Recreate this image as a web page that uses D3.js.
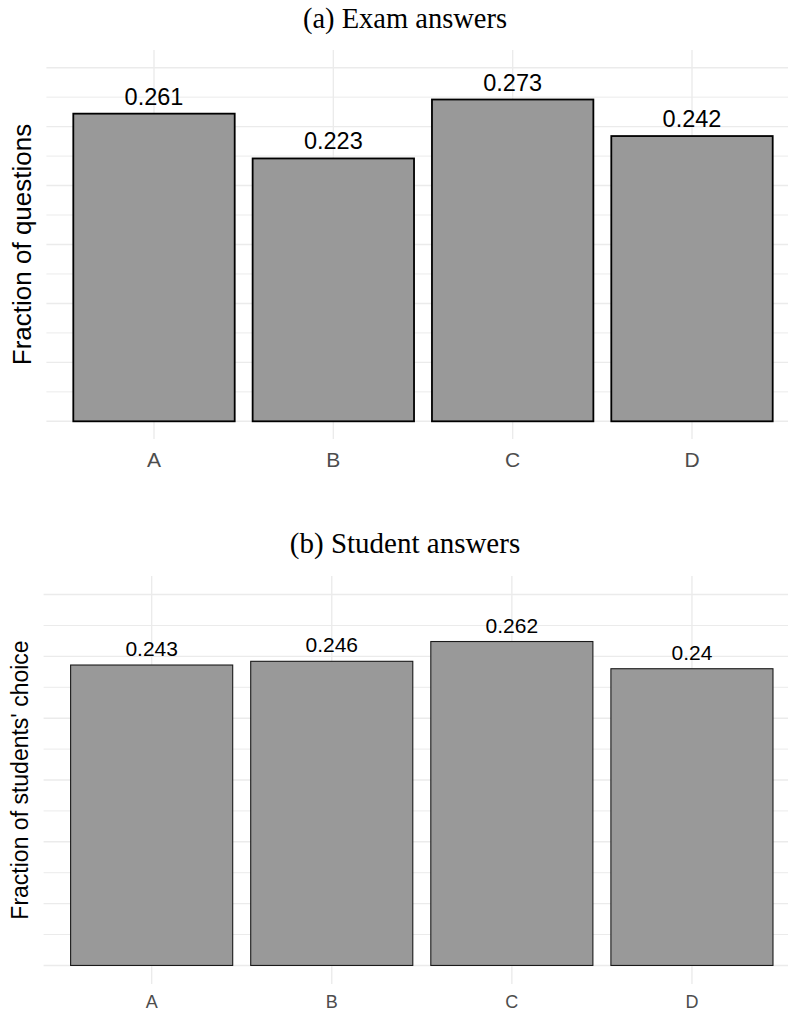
<!DOCTYPE html>
<html>
<head>
<meta charset="utf-8">
<script src="https://cdn.jsdelivr.net/npm/d3@7"></script>
<style>
  html, body { margin: 0; padding: 0; background: #fff; }
  svg { display: block; }
</style>
</head>
<body>
<svg id="chart" width="788" height="1015"></svg>
<script>
// ---- data ----
const categories = ["A", "B", "C", "D"];
const examValues = [0.261, 0.223, 0.273, 0.242];
const studentValues = [0.243, 0.246, 0.262, 0.24];
const majorTicks = [0, 0.05, 0.1, 0.15, 0.2, 0.25, 0.3];
const minorTicks = [0.025, 0.075, 0.125, 0.175, 0.225, 0.275];
const titles = ["(a) Exam answers", "(b) Student answers"];
const yTitles = ["Fraction of questions", "Fraction of students' choice"];

// ---- layout ----
const panels = [
  { values: examValues, title: titles[0], yTitle: yTitles[0],
    left: 46.4, right: 799.6, top: 50, bottom: 439,
    titleY: 28, titleSize: 28.5, yTitleX: 31, yTitleSize: 26,
    tickSize: 21, tickY: 467.3, labelSize: 23.5, barStroke: "#000", barStrokeW: 1.8 },
  { values: studentValues, title: titles[1], yTitle: yTitles[1],
    left: 43.6, right: 800, top: 576, bottom: 984,
    titleY: 553, titleSize: 29, yTitleX: 28.3, yTitleSize: 23,
    tickSize: 18, tickY: 1008.3, labelSize: 21, barStroke: "#1a1a1a", barStrokeW: 1.1 }
];

const svg = d3.select("#chart");
const yDomain = [-0.015, 0.315];

panels.forEach(p => {
  const g = svg.append("g");
  const x = d3.scaleBand().domain(categories).range([p.left, p.right])
    .paddingInner(0.1).paddingOuter(0.15);
  const y = d3.scaleLinear().domain(yDomain).range([p.bottom, p.top]);

  // minor horizontal grid
  g.selectAll(".minor").data(minorTicks).enter().append("line")
    .attr("x1", p.left).attr("x2", p.right)
    .attr("y1", d => y(d)).attr("y2", d => y(d))
    .attr("stroke", "#EBEBEB").attr("stroke-width", 1);
  // major horizontal grid
  g.selectAll(".major").data(majorTicks).enter().append("line")
    .attr("x1", p.left).attr("x2", p.right)
    .attr("y1", d => y(d)).attr("y2", d => y(d))
    .attr("stroke", "#EBEBEB").attr("stroke-width", 1.4);
  // vertical grid
  g.selectAll(".vgrid").data(categories).enter().append("line")
    .attr("x1", d => x(d) + x.bandwidth() / 2).attr("x2", d => x(d) + x.bandwidth() / 2)
    .attr("y1", p.top).attr("y2", p.bottom)
    .attr("stroke", "#EBEBEB").attr("stroke-width", 1.4);

  // bars
  g.selectAll(".bar").data(p.values).enter().append("rect")
    .attr("x", (d, i) => x(categories[i]))
    .attr("width", x.bandwidth())
    .attr("y", d => y(d))
    .attr("height", d => y(0) - y(d))
    .attr("fill", "#999999")
    .attr("stroke", p.barStroke)
    .attr("stroke-width", p.barStrokeW);

  // value labels
  g.selectAll(".lbl").data(p.values).enter().append("text")
    .attr("x", (d, i) => x(categories[i]) + x.bandwidth() / 2)
    .attr("y", d => y(d) - 9)
    .attr("text-anchor", "middle")
    .attr("font-family", "'Liberation Sans', Arial, sans-serif")
    .attr("font-size", p.labelSize)
    .attr("fill", "#000")
    .text(d => String(d));

  // x tick labels
  g.selectAll(".tick").data(categories).enter().append("text")
    .attr("x", d => x(d) + x.bandwidth() / 2)
    .attr("y", p.tickY)
    .attr("text-anchor", "middle")
    .attr("font-family", "'Liberation Sans', Arial, sans-serif")
    .attr("font-size", p.tickSize)
    .attr("fill", "#4D4D4D")
    .text(d => d);

  // y title
  const cy = (p.top + p.bottom) / 2;
  g.append("text")
    .attr("transform", `translate(${p.yTitleX},${cy}) rotate(-90)`)
    .attr("text-anchor", "middle")
    .attr("font-family", "'Liberation Sans', Arial, sans-serif")
    .attr("font-size", p.yTitleSize)
    .attr("fill", "#000")
    .text(p.yTitle);

  // panel title
  g.append("text")
    .attr("x", 405)
    .attr("y", p.titleY)
    .attr("text-anchor", "middle")
    .attr("font-family", "'Liberation Serif', 'DejaVu Serif', serif")
    .attr("font-size", p.titleSize)
    .attr("fill", "#000")
    .text(p.title);
});
</script>
</body>
</html>
